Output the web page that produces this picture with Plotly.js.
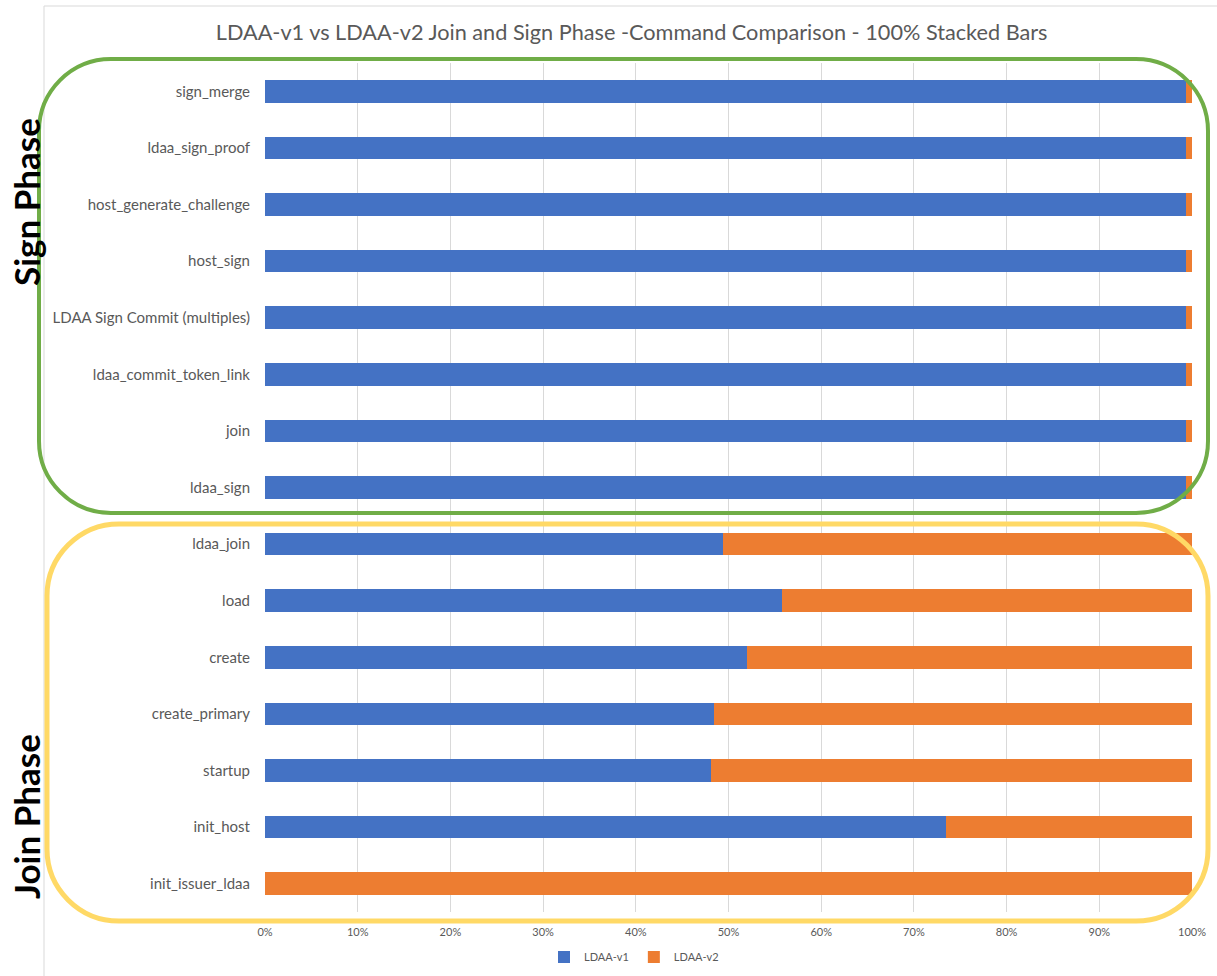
<!DOCTYPE html>
<html>
<head>
<meta charset="utf-8">
<script src="https://cdn.plot.ly/plotly-3.0.1.min.js"></script>
<style>
  html, body { margin: 0; padding: 0; background: #ffffff; }
  #chart { width: 1217px; height: 976px; }
</style>
</head>
<body>
<div id="chart"></div>
<script>
// Commands, listed top to bottom
const commands = [
  'sign_merge',
  'ldaa_sign_proof',
  'host_generate_challenge',
  'host_sign',
  'LDAA Sign Commit (multiples)',
  'ldaa_commit_token_link',
  'join',
  'ldaa_sign',
  'ldaa_join',
  'load',
  'create',
  'create_primary',
  'startup',
  'init_host',
  'init_issuer_ldaa'
];

// Share of each command (percent of the stacked total)
const ldaaV1 = [99.35, 99.35, 99.35, 99.35, 99.35, 99.35, 99.35, 99.35, 49.4, 55.8, 52.0, 48.4, 48.1, 73.5, 0];
const ldaaV2 = [0.65, 0.65, 0.65, 0.65, 0.65, 0.65, 0.65, 0.65, 50.6, 44.2, 48.0, 51.6, 51.9, 26.5, 100];

const tickValues = [0, 10, 20, 30, 40, 50, 60, 70, 80, 90, 100];
const tickLabels = ['0%', '10%', '20%', '30%', '40%', '50%', '60%', '70%', '80%', '90%', '100%'];

const W = 1217, H = 976;
const M = { l: 265, r: 25, t: 63, b: 64, autoexpand: false };
const PW = W - M.l - M.r, PH = H - M.t - M.b;

// pixel -> paper helpers for the overlay shapes
const xp = px => (px - M.l) / PW;
const yp = py => (H - M.b - py) / PH;

// rounded rectangle outline expressed in paper coordinates
function roundedRect(x0, y0, x1, y1, r) {
  const k = 0.5523 * r;
  const P = (x, y) => xp(x).toFixed(5) + ',' + yp(y).toFixed(5);
  return [
    'M', P(x0 + r, y0),
    'L', P(x1 - r, y0),
    'C', P(x1 - r + k, y0), P(x1, y0 + r - k), P(x1, y0 + r),
    'L', P(x1, y1 - r),
    'C', P(x1, y1 - r + k), P(x1 - r + k, y1), P(x1 - r, y1),
    'L', P(x0 + r, y1),
    'C', P(x0 + r - k, y1), P(x0, y1 - r + k), P(x0, y1 - r),
    'L', P(x0, y0 + r),
    'C', P(x0, y0 + r - k), P(x0 + r - k, y0), P(x0 + r, y0),
    'Z'
  ].join(' ');
}

const font = 'Lato, "Open Sans", "Liberation Sans", sans-serif';

const traces = [
  {
    type: 'bar', orientation: 'h', name: 'LDAA-v1',
    y: commands, x: ldaaV1,
    marker: { color: '#4472C4' },
    hoverinfo: 'x+y+name'
  },
  {
    type: 'bar', orientation: 'h', name: 'LDAA-v2',
    y: commands, x: ldaaV2,
    marker: { color: '#ED7D31' },
    hoverinfo: 'x+y+name'
  }
];

const layout = {
  width: W, height: H,
  margin: M,
  paper_bgcolor: '#ffffff',
  plot_bgcolor: '#ffffff',
  barmode: 'stack',
  bargap: 0.6,
  font: { family: font, color: '#595959' },
  title: {
    text: 'LDAA-v1 vs LDAA-v2 Join and Sign Phase -Command Comparison - 100% Stacked Bars',
    font: { family: font, size: 21.7, color: '#595959' },
    x: 0.519, xanchor: 'center',
    y: 1 - 32 / H, yanchor: 'middle', yref: 'container'
  },
  xaxis: {
    range: [0, 100],
    tickvals: tickValues,
    ticktext: tickLabels,
    showgrid: true,
    gridcolor: '#D9D9D9',
    gridwidth: 1,
    zeroline: false,
    showline: false,
    ticks: '',
    ticklabelstandoff: 12,
    automargin: false,
    tickfont: { size: 11, color: '#595959' },
    fixedrange: true
  },
  yaxis: {
    type: 'category',
    categoryorder: 'array',
    categoryarray: commands,
    autorange: 'reversed',
    showgrid: false,
    zeroline: false,
    showline: false,
    ticks: '',
    ticklabelstandoff: 14,
    automargin: false,
    tickfont: { size: 15, color: '#595959' },
    fixedrange: true
  },
  showlegend: true,
  legend: {
    orientation: 'h',
    x: xp(634), xanchor: 'center',
    y: yp(957), yanchor: 'middle',
    font: { size: 11, color: '#595959' },
    itemwidth: 30,
    traceorder: 'normal'
  },
  shapes: [
    // chart area frame (left and top edges)
    { type: 'line', xref: 'paper', yref: 'paper', x0: xp(44), x1: xp(44), y0: yp(6), y1: yp(976),
      line: { color: '#D9D9D9', width: 1 }, layer: 'below' },
    { type: 'line', xref: 'paper', yref: 'paper', x0: xp(44), x1: xp(1217), y0: yp(6), y1: yp(6),
      line: { color: '#D9D9D9', width: 1 }, layer: 'below' },
    // sign phase group
    { type: 'path', xref: 'paper', yref: 'paper', path: roundedRect(39, 59, 1208, 513, 72),
      line: { color: '#70AD47', width: 4 }, fillcolor: 'rgba(0,0,0,0)', layer: 'above' },
    // join phase group
    { type: 'path', xref: 'paper', yref: 'paper', path: roundedRect(47, 524, 1208, 921, 72),
      line: { color: '#FFD966', width: 5 }, fillcolor: 'rgba(0,0,0,0)', layer: 'above' }
  ],
  annotations: [
    { text: '<b>Sign Phase</b>', xref: 'paper', yref: 'paper', x: xp(26), y: yp(202),
      xanchor: 'center', yanchor: 'middle', textangle: -90, showarrow: false,
      font: { family: font, size: 35, color: '#000000' } },
    { text: '<b>Join Phase</b>', xref: 'paper', yref: 'paper', x: xp(26), y: yp(817),
      xanchor: 'center', yanchor: 'middle', textangle: -90, showarrow: false,
      font: { family: font, size: 35, color: '#000000' } }
  ]
};

Plotly.newPlot('chart', traces, layout, { displayModeBar: false, staticPlot: false });
</script>
</body>
</html>
